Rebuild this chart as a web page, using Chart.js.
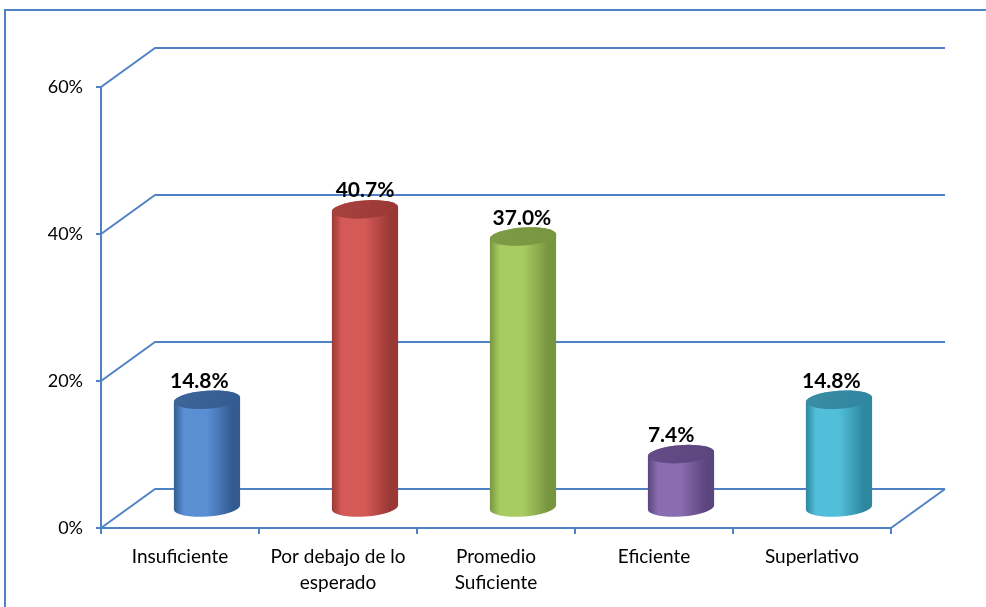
<!DOCTYPE html>
<html>
<head>
<meta charset="utf-8">
<script src="https://cdn.jsdelivr.net/npm/chart.js@4.4.1/dist/chart.umd.min.js"></script>
<style>
  html, body { margin: 0; padding: 0; background: #fff; }
  #wrap { width: 986px; height: 607px; position: relative; }
</style>
</head>
<body>
<div id="wrap"><canvas id="nivelChart"></canvas></div>
<script>
// categories and values
const categories = ['Insuficiente', ['Por debajo de lo', 'esperado'], ['Promedio', 'Suficiente'], 'Eficiente', 'Superlativo'];
const percentages = [14.8, 40.7, 37.0, 7.4, 14.8];
const yTicks = [0, 20, 40, 60];

// cylinder colours: [light, dark, top]
const palette = [
    ['#5a8fd4', '#335b91', '#3e6699'],
    ['#d45a57', '#9a3835', '#a8423f'],
    ['#a8cb62', '#78963f', '#7e9b46'],
    ['#8a6cb0', '#5b457e', '#654d88'],
    ['#52bfda', '#2e869f', '#3a8da4']
];

const lineBlue = '#4f81c7';
const depthX = 54, depthY = -39;   // offset of the back wall

function drawCylinder(ctx, cx, yTop, yBase, rx, ry, colors) {
    const rot = -0.07;
    const body = ctx.createLinearGradient(cx - rx, 0, cx + rx, 0);
    body.addColorStop(0, colors[1]);
    body.addColorStop(0.15, colors[0]);
    body.addColorStop(0.5, colors[0]);
    body.addColorStop(0.88, colors[1]);
    body.addColorStop(1, colors[1]);

    ctx.beginPath();
    ctx.ellipse(cx, yBase, rx, ry, rot, Math.PI, 0, true);
    ctx.ellipse(cx, yTop, rx, ry, rot, 0, Math.PI, true);
    ctx.closePath();
    ctx.fillStyle = body;
    ctx.fill();

    const top = ctx.createLinearGradient(cx - rx, yTop - ry, cx + rx, yTop + ry);
    top.addColorStop(0, colors[2]);
    top.addColorStop(1, colors[1]);
    ctx.beginPath();
    ctx.ellipse(cx, yTop, rx, ry, rot, 0, Math.PI * 2);
    ctx.fillStyle = top;
    ctx.fill();
}

const pseudo3d = {
    id: 'pseudo3d',
    beforeDraw(chart) {
        const ctx = chart.ctx;
        ctx.save();
        ctx.strokeStyle = lineBlue;
        ctx.lineWidth = 2;
        ctx.beginPath();
        ctx.moveTo(5, chart.height);
        ctx.lineTo(5, 10);
        ctx.lineTo(chart.width, 10);
        ctx.stroke();
        ctx.restore();
    },
    beforeDatasetsDraw(chart) {
        const ctx = chart.ctx;
        const area = chart.chartArea;
        const y = chart.scales.y;
        ctx.save();
        ctx.strokeStyle = lineBlue;
        ctx.lineWidth = 2;
        ctx.lineJoin = 'round';
        yTicks.forEach(v => {
            const py = y.getPixelForValue(v);
            ctx.beginPath();
            ctx.moveTo(area.left, py);
            ctx.lineTo(area.left + depthX, py + depthY);
            ctx.lineTo(area.right + depthX, py + depthY);
            ctx.stroke();
        });
        // right edge of the floor
        ctx.beginPath();
        ctx.moveTo(area.right, area.bottom);
        ctx.lineTo(area.right + depthX, area.bottom + depthY);
        ctx.stroke();
        ctx.restore();
    },
    afterDatasetsDraw(chart) {
        const ctx = chart.ctx;
        const meta = chart.getDatasetMeta(0);
        const ry = 9;
        ctx.save();
        meta.data.forEach((bar, i) => {
            const cx = bar.x + depthX / 2;
            const yTop = bar.y + depthY / 2;
            const yBase = bar.base + depthY / 2;
            drawCylinder(ctx, cx, yTop, yBase, bar.width / 2, ry, palette[i]);

            const v = percentages[i];
            ctx.fillStyle = '#000';
            ctx.font = 'bold 21px Lato';
            ctx.textAlign = 'center';
            ctx.textBaseline = 'alphabetic';
            const shift = -12 * (1 - v / 40.7);
            ctx.fillText(v.toFixed(1) + '%', cx + shift, yTop - ry - 3);
        });
        ctx.restore();
    }
};

const ctx = document.getElementById('nivelChart').getContext('2d');

const nivelChart = new Chart(ctx, {
    type: 'bar',
    data: {
        labels: categories,
        datasets: [{
            data: percentages,
            backgroundColor: 'rgba(0,0,0,0)',
            borderWidth: 0,
            barPercentage: 1,
            categoryPercentage: 0.42
        }]
    },
    options: {
        responsive: true,
        maintainAspectRatio: false,
        animation: false,
        layout: { padding: { left: 0, top: 87, right: 95, bottom: 0 } },
        plugins: {
            legend: { display: false },
            tooltip: { enabled: false }
        },
        scales: {
            x: {
                grid: { display: true, drawOnChartArea: false, offset: true, tickLength: 6, color: lineBlue, lineWidth: 2 },
                border: { display: true, color: lineBlue, width: 2 },
                ticks: { color: '#000', font: { family: 'Lato', size: 19, lineHeight: 1.35 }, padding: 10, maxRotation: 0 },
                afterFit: scale => { scale.height = 79; }
            },
            y: {
                min: 0,
                max: 60,
                afterBuildTicks: scale => { scale.ticks = yTicks.map(v => ({ value: v })); },
                grid: { display: true, drawOnChartArea: false, tickLength: 5, color: lineBlue, lineWidth: 2 },
                border: { display: true, color: lineBlue, width: 2 },
                ticks: { color: '#000', font: { family: 'Lato', size: 18 }, padding: 13, callback: v => v + '%' },
                afterFit: scale => { scale.width = 101; }
            }
        }
    },
    plugins: [pseudo3d]
});
</script>
</body>
</html>
